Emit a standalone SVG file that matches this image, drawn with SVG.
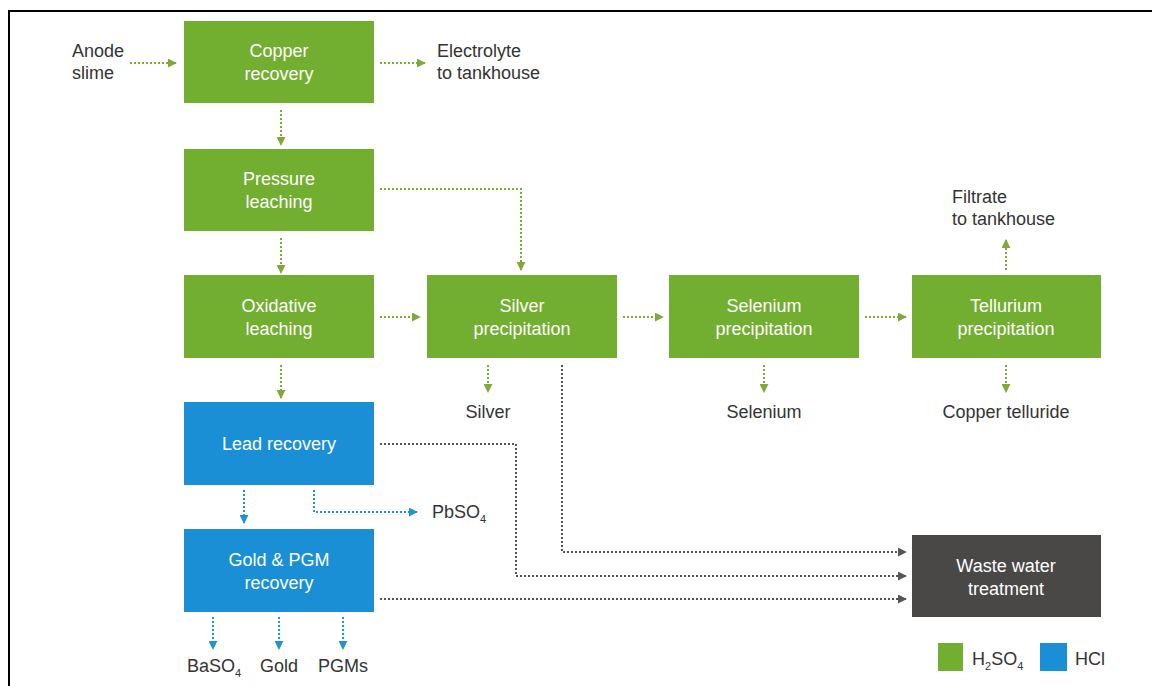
<svg xmlns="http://www.w3.org/2000/svg" width="1152" height="686" viewBox="0 0 1152 686">
<defs>
<style>
.g{fill:#72ae2f}
.b{fill:#1a8fd5}
.d{fill:#4a4846}
.bt{font-family:"Liberation Sans",Arial,sans-serif;font-size:18px;fill:#ffffff;text-anchor:middle}
.lt{font-family:"Liberation Sans",Arial,sans-serif;font-size:18px;fill:#333333}
.c{fill:none;stroke-width:2;stroke-dasharray:2 2}
.cg{stroke:#80a93a}
.cb{stroke:#1e94d4}
.cd{stroke:#555555}
</style>
<marker id="ag" viewBox="0 0 10 10" refX="9" refY="5" markerWidth="4.5" markerHeight="4.5" orient="auto" markerUnits="strokeWidth"><path d="M0,0 L10,5 L0,10 z" fill="#80a93a"/></marker>
<marker id="ab" viewBox="0 0 10 10" refX="9" refY="5" markerWidth="4.5" markerHeight="4.5" orient="auto" markerUnits="strokeWidth"><path d="M0,0 L10,5 L0,10 z" fill="#1e94d4"/></marker>
<marker id="ad" viewBox="0 0 10 10" refX="9" refY="5" markerWidth="4.5" markerHeight="4.5" orient="auto" markerUnits="strokeWidth"><path d="M0,0 L10,5 L0,10 z" fill="#555555"/></marker>
</defs>
<rect width="1152" height="686" fill="#ffffff"/>
<path d="M9,686 V11 H1152" fill="none" stroke="#000" stroke-width="2"/>

<g id="connectors">
<path class="c cg" d="M130,63 H176" marker-end="url(#ag)"/>
<path class="c cg" d="M380,63 H425" marker-end="url(#ag)"/>
<path class="c cg" d="M281,110 V145" marker-end="url(#ag)"/>
<path class="c cg" d="M380,189 H521 V270" marker-end="url(#ag)"/>
<path class="c cg" d="M281,238 V273" marker-end="url(#ag)"/>
<path class="c cg" d="M380,317 H420" marker-end="url(#ag)"/>
<path class="c cg" d="M623,317 H663" marker-end="url(#ag)"/>
<path class="c cg" d="M865,317 H906" marker-end="url(#ag)"/>
<path class="c cg" d="M1006,270 V240" marker-end="url(#ag)"/>
<path class="c cg" d="M281,365 V398" marker-end="url(#ag)"/>
<path class="c cg" d="M488,365 V392" marker-end="url(#ag)"/>
<path class="c cg" d="M764,365 V392" marker-end="url(#ag)"/>
<path class="c cg" d="M1006,365 V392" marker-end="url(#ag)"/>
<path class="c cd" d="M562,365 V552 H906" marker-end="url(#ad)"/>
<path class="c cd" d="M380,444 H516 V576 H906" marker-end="url(#ad)"/>
<path class="c cd" d="M380,599 H906" marker-end="url(#ad)"/>
<path class="c cb" d="M244,490 V523" marker-end="url(#ab)"/>
<path class="c cb" d="M314,490 V512 H417" marker-end="url(#ab)"/>
<path class="c cb" d="M213,617 V649" marker-end="url(#ab)"/>
<path class="c cb" d="M279,617 V649" marker-end="url(#ab)"/>
<path class="c cb" d="M343,617 V649" marker-end="url(#ab)"/>
</g>

<g id="copper">
<rect class="g" x="184" y="21" width="190" height="82"/>
<text class="bt" x="279" y="57">Copper</text>
<text class="bt" x="279" y="80">recovery</text>
</g>
<g id="pressure">
<rect class="g" x="184" y="149" width="190" height="82"/>
<text class="bt" x="279" y="185">Pressure</text>
<text class="bt" x="279" y="208">leaching</text>
</g>
<g id="oxidative">
<rect class="g" x="184" y="275" width="190" height="83"/>
<text class="bt" x="279" y="312">Oxidative</text>
<text class="bt" x="279" y="335">leaching</text>
</g>
<g id="silver">
<rect class="g" x="427" y="275" width="190" height="83"/>
<text class="bt" x="522" y="312">Silver</text>
<text class="bt" x="522" y="335">precipitation</text>
</g>
<g id="selenium">
<rect class="g" x="669" y="275" width="190" height="83"/>
<text class="bt" x="764" y="312">Selenium</text>
<text class="bt" x="764" y="335">precipitation</text>
</g>
<g id="tellurium">
<rect class="g" x="912" y="275" width="189" height="83"/>
<text class="bt" x="1006" y="312">Tellurium</text>
<text class="bt" x="1006" y="335">precipitation</text>
</g>
<g id="lead">
<rect class="b" x="184" y="402" width="190" height="83"/>
<text class="bt" x="279" y="450">Lead recovery</text>
</g>
<g id="gold">
<rect class="b" x="184" y="529" width="190" height="83"/>
<text class="bt" x="279" y="566">Gold &amp; PGM</text>
<text class="bt" x="279" y="589">recovery</text>
</g>
<g id="waste">
<rect class="d" x="912" y="535" width="189" height="82"/>
<text class="bt" x="1006" y="572">Waste water</text>
<text class="bt" x="1006" y="595">treatment</text>
</g>

<g id="labels">
<text class="lt" x="72" y="57">Anode</text>
<text class="lt" x="72" y="79">slime</text>
<text class="lt" x="437" y="57">Electrolyte</text>
<text class="lt" x="437" y="79">to tankhouse</text>
<text class="lt" x="952" y="203">Filtrate</text>
<text class="lt" x="952" y="225">to tankhouse</text>
<text class="lt" x="488" y="418" text-anchor="middle">Silver</text>
<text class="lt" x="764" y="418" text-anchor="middle">Selenium</text>
<text class="lt" x="1006" y="418" text-anchor="middle">Copper telluride</text>
<text class="lt" x="432" y="518">PbSO<tspan font-size="11" dy="5">4</tspan></text>
<text class="lt" x="187" y="672">BaSO<tspan font-size="11" dy="5">4</tspan></text>
<text class="lt" x="279" y="672" text-anchor="middle">Gold</text>
<text class="lt" x="343" y="672" text-anchor="middle">PGMs</text>
</g>

<g id="legend">
<rect class="g" x="938" y="643" width="25" height="28"/>
<text class="lt" x="972" y="665">H<tspan font-size="11" dy="5">2</tspan><tspan dy="-5">SO</tspan><tspan font-size="11" dy="5">4</tspan></text>
<rect class="b" x="1040" y="643" width="27" height="28"/>
<text class="lt" x="1075" y="665">HCl</text>
</g>
</svg>
